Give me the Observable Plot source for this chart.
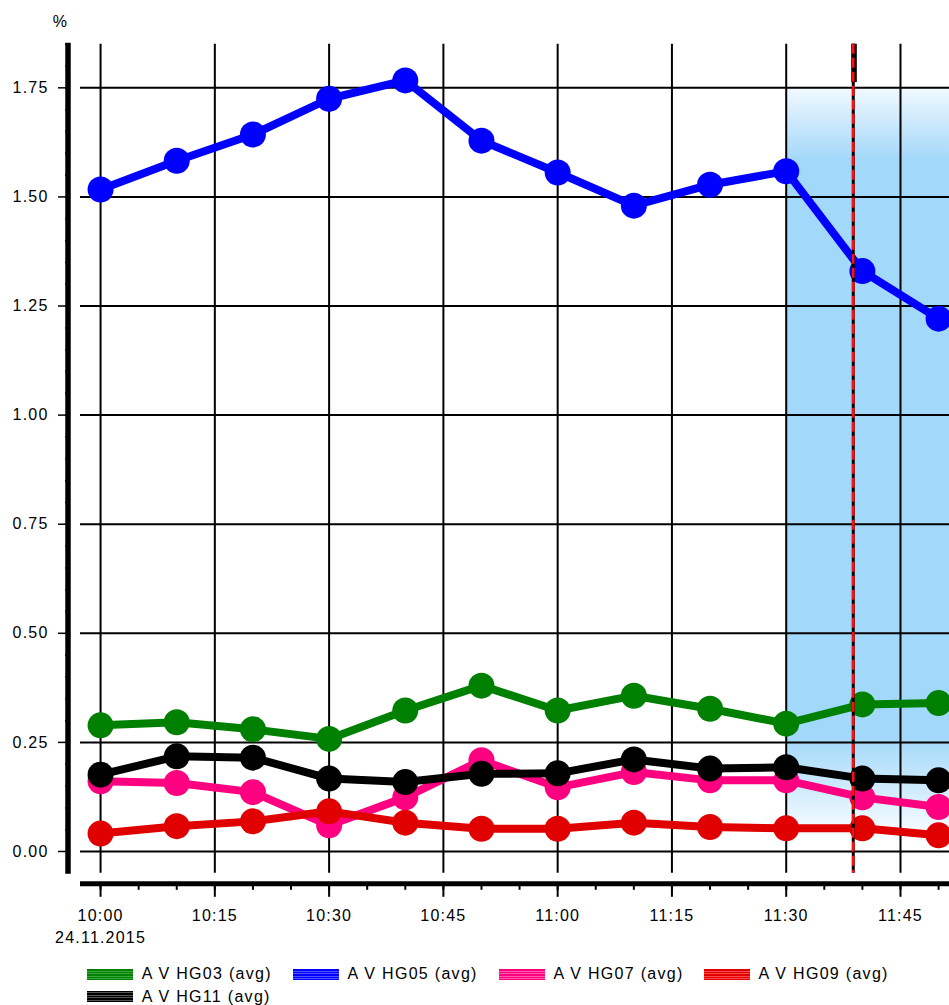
<!DOCTYPE html>
<html><head><meta charset="utf-8">
<script src="https://cdn.jsdelivr.net/npm/d3@7"></script>
<script src="https://cdn.jsdelivr.net/npm/@observablehq/plot@0.6"></script>
<style>
body{margin:0;background:#fff;font-family:"Liberation Sans",Arial,sans-serif;}
#legend{position:relative;height:50px;width:949px;overflow:hidden}
.sw{position:absolute;width:46px;height:11px}
.lt{position:absolute;font-size:16px;letter-spacing:1.3px;white-space:pre;color:#000;line-height:18px}
#chart svg, #chart svg g, #chart svg text{font-size:16px !important; font-family:"Liberation Sans",Arial,sans-serif !important;}
#chart svg text{letter-spacing:1.2px}
</style></head><body>
<div id="chart"></div><div id="legend"></div>
<script>
const day = "2015-11-24";
const dateLabel = "24.11.2015";
const times = ["10:00","10:10","10:20","10:30","10:40","10:50","11:00","11:10","11:20","11:30","11:40","11:50"];
const seriesNames = ["A V HG03 (avg)","A V HG05 (avg)","A V HG07 (avg)","A V HG09 (avg)","A V HG11 (avg)"];
const seriesColors = ["#008000","#0000ff","#ff0080","#e00000","#000000"];
const swatchLight = ["#3aa83a","#5050ff","#ff5aa8","#ff4a4a","#555555"];
const hg03 = [0.289,0.296,0.280,0.258,0.323,0.380,0.323,0.357,0.327,0.293,0.337,0.340];
const hg05 = [1.517,1.583,1.643,1.725,1.767,1.629,1.556,1.480,1.528,1.559,1.330,1.221];
const hg07 = [0.161,0.157,0.136,0.060,0.124,0.209,0.147,0.182,0.163,0.163,0.124,0.102];
const hg09 = [0.041,0.058,0.069,0.092,0.066,0.052,0.052,0.066,0.056,0.053,0.053,0.037];
const hg11 = [0.176,0.218,0.215,0.167,0.159,0.178,0.179,0.211,0.190,0.193,0.167,0.163];
const seriesValues = [hg03,hg05,hg07,hg09,hg11];
const yTicks = [0,0.25,0.5,0.75,1.0,1.25,1.5,1.75];
const yMinorTicks = d3.range(0,1.86,0.05);
const xTickLabels = ["10:00","10:15","10:30","10:45","11:00","11:15","11:30","11:45"];
const xMinorLabels = ["10:00","10:05","10:10","10:15","10:20","10:25","10:30","10:35","10:40","10:45","10:50","10:55","11:00","11:05","11:10","11:15","11:20","11:25","11:30","11:35","11:40","11:45","11:50"];
const xStart = "09:57:22", xEnd = "11:51:26";
const bandStart = "11:30", bandEnd = xEnd;
const bandLow = 0.02, bandHigh = 1.75;
const cursorTime = "11:38:48";

const T = s => new Date(`${day}T${s.length===5 ? s+":00" : s}Z`);

const data = [];
seriesNames.forEach((name,i) => times.forEach((t,j) => data.push({series:name, time:T(t), value:seriesValues[i][j]})));

const fmt = d3.utcFormat("%H:%M");
const W = 949, H = 955;

function axisLines(index, scales, values, dims) {
  const {marginLeft, marginTop, marginBottom, width, height} = dims;
  const g = d3.create("svg:g");
  const defs = g.append("defs");
  const lg = defs.append("linearGradient").attr("id","bandGrad").attr("x1",0).attr("y1",0).attr("x2",0).attr("y2",1);
  [[0,"#f2f9ff"],[0.093,"#a6d9fa"],[0.094,"#a2d8fa"],[0.86,"#a2d8fa"],[1,"#ffffff"]].forEach(([o,c]) => lg.append("stop").attr("offset",o).attr("stop-color",c));
  const bottom = height - marginBottom;
  g.append("line").attr("x1", marginLeft-12).attr("x2", marginLeft-12).attr("y1", marginTop-1).attr("y2", bottom+1).attr("stroke","#000").attr("stroke-width",5.5);
  g.append("line").attr("x1", marginLeft).attr("x2", width).attr("y1", bottom+11).attr("y2", bottom+11).attr("stroke","#000").attr("stroke-width",5);
  return g.node();
}

const marks = [
  axisLines,
  Plot.rect([{}], {x1: () => T(bandStart), x2: () => T(bandEnd), y1: () => bandLow, y2: () => bandHigh, fill: "url(#bandGrad)"}),
  Plot.gridY(yTicks, {stroke: "#000", strokeOpacity: 1, strokeWidth: 2}),
  Plot.gridX(xTickLabels.map(T), {stroke: "#000", strokeOpacity: 1, strokeWidth: 2}),
  Plot.axisY(yMinorTicks, {tickSize: 3, dx: -12, tickFormat: () => "", stroke: "#000", strokeWidth: 1.5, label: null}),
  Plot.axisY(yTicks, {tickSize: 10, tickPadding: 10, dx: -12, tickFormat: d3.format(".2f"), fill: "#000", strokeWidth: 1.5, label: null, fontSize: 16}),
  Plot.axisX(xMinorLabels.map(T), {tickSize: 6, dy: 11, tickFormat: () => "", strokeWidth: 2, label: null}),
  Plot.axisX(xTickLabels.map(T), {tickSize: 13, tickPadding: 8, dy: 11, strokeWidth: 2, fill: "#000", lineHeight: 1.38, label: null, fontSize: 16,
    tickFormat: d => fmt(d) === xTickLabels[0] ? `${fmt(d)}\n${dateLabel}` : fmt(d)}),
  Plot.text(["%"], {frameAnchor: "top-left", dx: -20, dy: -29, fill: "#000", textAnchor: "middle", fontSize: 16})
];
seriesNames.forEach((name,i) => {
  const d = data.filter(r => r.series === name);
  marks.push(Plot.line(d, {x: "time", y: "value", stroke: seriesColors[i], strokeWidth: 8}));
  marks.push(Plot.dot(d, {x: "time", y: "value", r: 13, fill: seriesColors[i], stroke: null}));
});
marks.push(Plot.ruleX([T(cursorTime)], {stroke: "#000", strokeWidth: 3}));
marks.push(Plot.ruleX([T(cursorTime)], {y1: 1.762, y2: 1.85, stroke: "#000", strokeWidth: 5.5, dx: 0.8}));
marks.push(Plot.ruleX([T(cursorTime)], {stroke: "#ff1010", strokeWidth: 2.5, strokeDasharray: "10,4"}));

const chart = Plot.plot({
  width: W, height: H,
  marginLeft: 80, marginRight: 0, marginTop: 43.7, marginBottom: H - 872.8,
  style: {fontFamily: '"Liberation Sans", Arial, sans-serif', fontSize: "16px", background: "#fff", overflow: "visible"},
  x: {type: "utc", domain: [T(xStart), T(xEnd)]},
  y: {domain: [-0.05, 1.85]},
  marks
});
document.getElementById("chart").appendChild(chart);

const legendPos = [[87,141.7,19],[293,347.5,19],[499,553.4,19],[704,758.5,19],[87,141.7,41.5]];
const leg = document.getElementById("legend");
seriesNames.forEach((name,i) => {
  const [sx, tx, cy] = legendPos[i];
  const sw = document.createElement("div");
  sw.className = "sw";
  sw.style.left = sx+"px"; sw.style.top = (cy-5.5)+"px";
  sw.style.background = `repeating-linear-gradient(to bottom, ${seriesColors[i]} 0px, ${seriesColors[i]} 1.5px, ${swatchLight[i]} 1.5px, ${swatchLight[i]} 2.5px)`;
  leg.appendChild(sw);
  const tx_ = document.createElement("div");
  tx_.className = "lt";
  tx_.style.left = tx+"px"; tx_.style.top = (cy-9)+"px";
  tx_.textContent = name;
  leg.appendChild(tx_);
});
</script>
</body></html>
